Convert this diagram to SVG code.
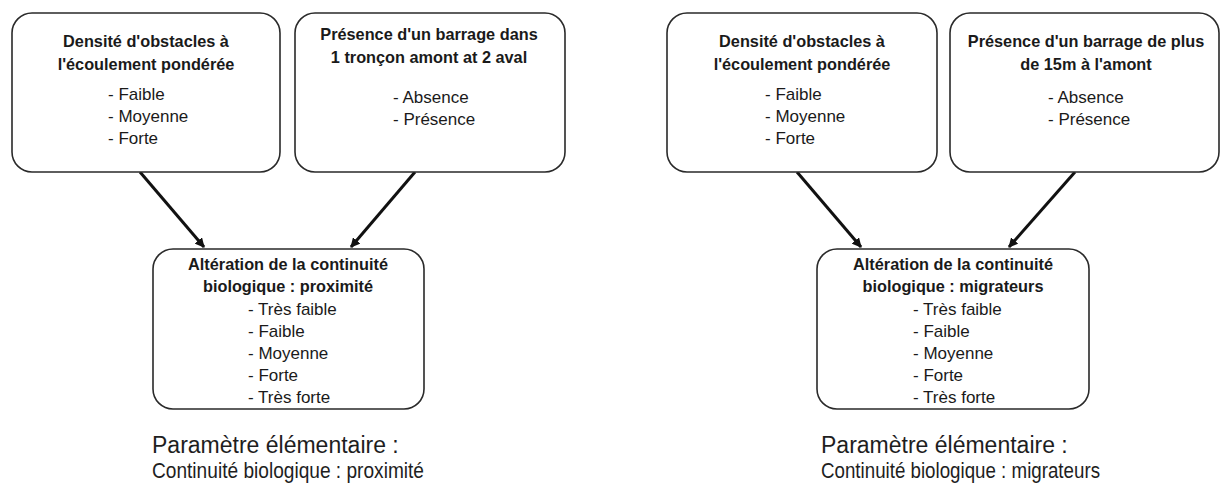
<svg xmlns="http://www.w3.org/2000/svg" width="1221" height="488" viewBox="0 0 1221 488">
<defs>
<marker id="ah" viewBox="0 0 10 10" refX="9" refY="5" markerWidth="3.2" markerHeight="3.2" orient="auto" markerUnits="strokeWidth">
<path d="M0,0 L10,5 L0,10 z" fill="#111"/>
</marker>
<style>
.box{fill:#fff;stroke:#2a2a2a;stroke-width:1.6}
.t{font-family:"Liberation Sans",Arial,sans-serif;font-weight:bold;font-size:16.3px;fill:#1a1a1a;text-anchor:middle}
.i{font-family:"Liberation Sans",Arial,sans-serif;font-size:17px;fill:#1a1a1a}
.c{font-family:"Liberation Sans",Arial,sans-serif;font-size:23px;fill:#1e1e1e}
.c2{font-size:22.5px}
.ln{stroke:#111;stroke-width:3;fill:none;marker-end:url(#ah)}
</style>
</defs>
<rect width="1221" height="488" fill="#fff"/>
<g id="connectors">
<line class="ln" x1="140" y1="172" x2="204" y2="247"/>
<line class="ln" x1="415" y1="172" x2="351" y2="247"/>
<line class="ln" x1="797" y1="172" x2="861" y2="247"/>
<line class="ln" x1="1075" y1="172" x2="1009" y2="247"/>
</g>
<g id="n1">
<rect class="box" x="12" y="13" width="268" height="159" rx="20"/>
<text class="t" x="146" y="47">Densité d'obstacles à</text>
<text class="t" x="146" y="70">l'écoulement pondérée</text>
<text class="i" x="108" y="100">- Faible</text>
<text class="i" x="108" y="122">- Moyenne</text>
<text class="i" x="108" y="144">- Forte</text>
</g>
<g id="n2">
<rect class="box" x="295" y="13" width="270" height="159" rx="20"/>
<text class="t" x="429" y="40">Présence d'un barrage dans</text>
<text class="t" x="429" y="63">1 tronçon amont at 2 aval</text>
<text class="i" x="393" y="103">- Absence</text>
<text class="i" x="393" y="125">- Présence</text>
</g>
<g id="n3">
<rect class="box" x="153" y="249" width="271" height="160" rx="20"/>
<text class="t" x="288" y="270">Altération de la continuité</text>
<text class="t" x="288" y="292">biologique : proximité</text>
<text class="i" x="248" y="315">- Très faible</text>
<text class="i" x="248" y="337">- Faible</text>
<text class="i" x="248" y="359">- Moyenne</text>
<text class="i" x="248" y="381">- Forte</text>
<text class="i" x="248" y="403">- Très forte</text>
</g>
<g id="cap1">
<text class="c" x="152" y="453">Paramètre élémentaire :</text>
<text class="c c2" x="152" y="478" textLength="272" lengthAdjust="spacingAndGlyphs">Continuité biologique : proximité</text>
</g>
<g id="n4">
<rect class="box" x="667" y="13" width="270" height="159" rx="20"/>
<text class="t" x="802" y="47">Densité d'obstacles à</text>
<text class="t" x="802" y="70">l'écoulement pondérée</text>
<text class="i" x="765" y="100">- Faible</text>
<text class="i" x="765" y="122">- Moyenne</text>
<text class="i" x="765" y="144">- Forte</text>
</g>
<g id="n5">
<rect class="box" x="950" y="13" width="269" height="159" rx="20"/>
<text class="t" x="1086" y="47">Présence d'un barrage de plus</text>
<text class="t" x="1086" y="70">de 15m à l'amont</text>
<text class="i" x="1048" y="103">- Absence</text>
<text class="i" x="1048" y="125">- Présence</text>
</g>
<g id="n6">
<rect class="box" x="817" y="249" width="272" height="160" rx="20"/>
<text class="t" x="953" y="270">Altération de la continuité</text>
<text class="t" x="953" y="292">biologique : migrateurs</text>
<text class="i" x="913" y="315">- Très faible</text>
<text class="i" x="913" y="337">- Faible</text>
<text class="i" x="913" y="359">- Moyenne</text>
<text class="i" x="913" y="381">- Forte</text>
<text class="i" x="913" y="403">- Très forte</text>
</g>
<g id="cap2">
<text class="c" x="821" y="453">Paramètre élémentaire :</text>
<text class="c c2" x="821" y="478" textLength="279" lengthAdjust="spacingAndGlyphs">Continuité biologique : migrateurs</text>
</g>
</svg>
